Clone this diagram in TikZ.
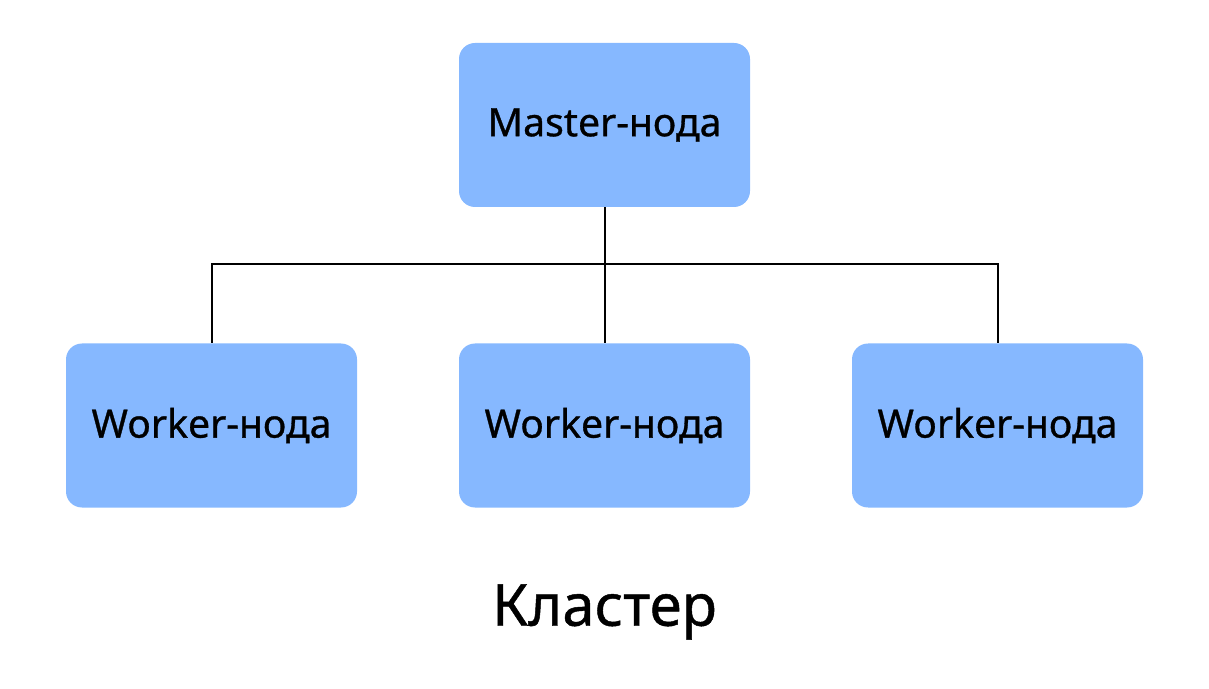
\documentclass[tikz,border=0pt]{standalone}
\usepackage{fontspec}
\setmainfont{Noto Sans}[FakeBold=0.8,AutoFakeBold=0.8]
\usepackage{xcolor}
\usetikzlibrary{positioning}
\definecolor{nodeblue}{HTML}{86B8FF}

\begin{document}
\begin{tikzpicture}
    % Styles
    \tikzstyle{nodebox} = [rectangle, fill=nodeblue, minimum width=5.82cm, minimum height=3.28cm, rounded corners=0.32cm, font=\fontsize{22.3}{26}\selectfont\bfseries]
    \tikzstyle{link} = [line width=0.04cm, black]

    \useasboundingbox (0,0) rectangle (24.18,13.76);

    % Master
    \node[nodebox] (master) at (12.09,11.26) {Master-нода};

    % Workers
    \node[nodebox] (worker1) at (4.23,5.25) {Worker-нода};
    \node[nodebox] (worker2) at (12.09,5.25) {Worker-нода};
    \node[nodebox] (worker3) at (19.95,5.25) {Worker-нода};

    % Cluster label
    \node[font=\fontsize{33}{40}\selectfont\bfseries] (cluster) at (12.09,1.52) {Кластер};

    % Links
    \coordinate (split) at (12.09,8.48);
    \draw[link] (master) -- (split);
    \draw[link] (split) -| (worker1);
    \draw[link] (split) -- (worker2);
    \draw[link] (split) -| (worker3);
\end{tikzpicture}
\end{document}
